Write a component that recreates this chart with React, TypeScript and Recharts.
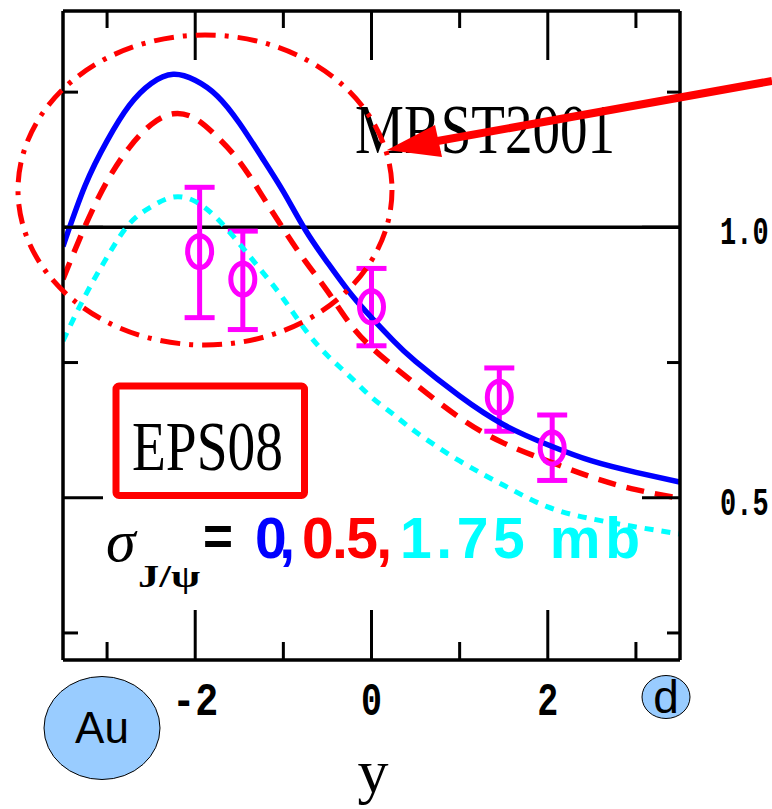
import React from 'react';
import { ComposedChart, Line, Scatter, ErrorBar, XAxis, YAxis, ReferenceLine } from 'recharts';

// rapidity grid for the model curves
const rapidity = [-3.5, -3.25, -3.0, -2.75, -2.5, -2.25, -2.0, -1.75, -1.5, -1.25, -1.0, -0.75, -0.5, -0.25, 0, 0.25, 0.5, 1.0, 1.5, 2.0, 2.5, 3.0, 3.5];
// EPS08 curves for sigma_J/psi = 0, 0.5, 1.75 mb
const sigma0 = [0.965, 1.077, 1.16, 1.225, 1.266, 1.283, 1.272, 1.243, 1.193, 1.131, 1.066, 0.995, 0.935, 0.88, 0.833, 0.79, 0.752, 0.688, 0.635, 0.598, 0.568, 0.547, 0.529];
const sigma05 = [0.904, 1.002, 1.085, 1.147, 1.19, 1.21, 1.201, 1.167, 1.122, 1.061, 0.997, 0.937, 0.882, 0.823, 0.778, 0.743, 0.71, 0.648, 0.601, 0.568, 0.538, 0.515, 0.499];
const sigma175 = [0.79, 0.873, 0.945, 1.006, 1.038, 1.056, 1.048, 1.016, 0.97, 0.92, 0.868, 0.81, 0.763, 0.725, 0.686, 0.654, 0.622, 0.568, 0.523, 0.483, 0.461, 0.446, 0.433];

// measured points
const dataRapidity = [-1.95, -1.46, 0.0, 1.45, 2.05];
const dataRatio = [0.955, 0.904, 0.853, 0.686, 0.592];
const dataErrLow = [0.122, 0.093, 0.072, 0.063, 0.06];
const dataErrHigh = [0.119, 0.089, 0.071, 0.054, 0.061];

// ticks
const xMajorTicks = [-2, 0, 2];
const xMinorTicks = [-3, -1, 1, 3];
const xTickLabels = ['-2', '0', '2'];
const yMajorTicks = [0.5, 1.0];
const yMinorTicks = [0.25, 0.75, 1.25];
const yTickLabels = ['0.5', '1.0'];

const blueData = rapidity.map((x, i) => ({ x, v: sigma0[i] }));
const redData = rapidity.map((x, i) => ({ x, v: sigma05[i] }));
const cyanData = rapidity.map((x, i) => ({ x, v: sigma175[i] }));
const pointData = dataRapidity.map((x, i) => ({ x, v: dataRatio[i], err: [dataErrLow[i], dataErrHigh[i]] }));

const allXTicks = [...xMinorTicks, ...xMajorTicks].sort((a, b) => a - b);
const allYTicks = [...yMinorTicks, ...yMajorTicks].sort((a, b) => a - b);

const BLACK = '#000000';
const TICK_W = 3;

const BottomTick = (p: any) => {
  const { x, y, payload } = p;
  const idx = xMajorTicks.indexOf(payload.value);
  const major = idx >= 0;
  return (
    <g>
      <line x1={x} y1={y} x2={x} y2={y - (major ? 50 : 18)} stroke={BLACK} strokeWidth={TICK_W} />
      {major && (
        <text x={x} y={y + 55} textAnchor="middle" fontFamily="Liberation Mono" fontWeight="bold" fontSize={46}
          textLength={xTickLabels[idx].length > 1 ? 46 : 21} lengthAdjust="spacingAndGlyphs" fill={BLACK}>
          {xTickLabels[idx]}
        </text>
      )}
    </g>
  );
};

const TopTick = (p: any) => {
  const { x, y, payload } = p;
  const major = xMajorTicks.indexOf(payload.value) >= 0;
  return <line x1={x} y1={y} x2={x} y2={y + (major ? 49 : 17)} stroke={BLACK} strokeWidth={TICK_W} />;
};

const LeftTick = (p: any) => {
  const { x, y, payload } = p;
  const major = yMajorTicks.indexOf(payload.value) >= 0;
  return <line x1={x} y1={y} x2={x + (major ? 40 : 15)} y2={y} stroke={BLACK} strokeWidth={TICK_W} />;
};

const RightTick = (p: any) => {
  const { x, y, payload } = p;
  const idx = yMajorTicks.indexOf(payload.value);
  const major = idx >= 0;
  return (
    <g>
      <line x1={x} y1={y} x2={x - (major ? 38 : 13)} y2={y} stroke={BLACK} strokeWidth={TICK_W} />
      {major && (
        <text transform={`translate(${x + 40},${y + 17}) scale(1,1.45)`} x={0} y={0} textAnchor="start"
          fontFamily="Liberation Mono" fontWeight="bold" fontSize={27} fill={BLACK}>
          {yTickLabels[idx]}
        </text>
      )}
    </g>
  );
};

const PointShape = (p: any) => (
  <ellipse cx={p.cx} cy={p.cy} rx={12} ry={16} fill="none" stroke="#ff00ff" strokeWidth={5} />
);

export default function App() {
  return (
    <div style={{ position: 'absolute', left: 0, top: 0, width: 772, height: 809, background: '#ffffff', overflow: 'hidden' }}>
      <ComposedChart width={772} height={809} margin={{ top: 0, right: 0, bottom: 0, left: 0 }}>
        <XAxis xAxisId="b" type="number" dataKey="x" domain={[-3.5, 3.5]} allowDataOverflow ticks={allXTicks}
          height={149} tickSize={0} tickMargin={0} tick={BottomTick} tickLine={false}
          axisLine={{ stroke: BLACK, strokeWidth: 3.5 }} interval={0} />
        <XAxis xAxisId="t" orientation="top" type="number" dataKey="x" domain={[-3.5, 3.5]} allowDataOverflow ticks={allXTicks}
          height={11} tickSize={0} tickMargin={0} tick={TopTick} tickLine={false}
          axisLine={{ stroke: BLACK, strokeWidth: 3.5 }} interval={0} />
        <YAxis yAxisId="l" type="number" dataKey="v" domain={[0.2, 1.4]} allowDataOverflow ticks={allYTicks}
          width={63} tickSize={0} tickMargin={0} tick={LeftTick} tickLine={false}
          axisLine={{ stroke: BLACK, strokeWidth: 3.5 }} interval={0} />
        <YAxis yAxisId="r" orientation="right" type="number" dataKey="v" domain={[0.2, 1.4]} allowDataOverflow ticks={allYTicks}
          width={92} tickSize={0} tickMargin={0} tick={RightTick} tickLine={false}
          axisLine={{ stroke: BLACK, strokeWidth: 3.5 }} interval={0} />
        <ReferenceLine xAxisId="b" yAxisId="l" y={1.0} stroke={BLACK} strokeWidth={3.5} />
        <Scatter xAxisId="b" yAxisId="l" data={pointData} dataKey="v" shape={PointShape} isAnimationActive={false}>
          <ErrorBar dataKey="err" direction="y" width={15} stroke="#ff00ff" strokeWidth={5} isAnimationActive={false} />
        </Scatter>
        <Line xAxisId="b" yAxisId="l" data={cyanData} dataKey="v" type="natural" stroke="#00ffff" strokeWidth={5}
          strokeDasharray="9 8" dot={false} activeDot={false} isAnimationActive={false} />
        <Line xAxisId="b" yAxisId="l" data={redData} dataKey="v" type="natural" stroke="#ff0000" strokeWidth={5.5}
          strokeDasharray="18 11" dot={false} activeDot={false} isAnimationActive={false} />
        <Line xAxisId="b" yAxisId="l" data={blueData} dataKey="v" type="natural" stroke="#0000ff" strokeWidth={5.5}
          dot={false} activeDot={false} isAnimationActive={false} />
      </ComposedChart>
      <svg width={772} height={809} style={{ position: 'absolute', left: 0, top: 0, pointerEvents: 'none' }}>
        <text x={355} y={153} fontFamily="Liberation Serif" fontSize={69} textLength={260} lengthAdjust="spacingAndGlyphs" fill={BLACK}>MRST2001</text>
        <rect x={116} y={386} width={188.5} height={109.5} rx={3} fill="none" stroke="#ff0000" strokeWidth={7} />
        <text x={132} y={470} fontFamily="Liberation Serif" fontSize={70} textLength={151} lengthAdjust="spacingAndGlyphs" fill={BLACK}>EPS08</text>
        <text x={106} y={561} fontFamily="Liberation Serif" fontStyle="italic" fontSize={60} fill={BLACK}>σ</text>
        <text x={138} y={587} fontFamily="Liberation Serif" fontWeight="bold" fontSize={32} textLength={62} lengthAdjust="spacingAndGlyphs" fill={BLACK}>J/ψ</text>
        <text x={203} y={555} fontFamily="Liberation Sans" fontWeight="bold" fontSize={55} textLength={30} lengthAdjust="spacingAndGlyphs" fill={BLACK}>=</text>
        <text x={255} y={558} fontFamily="Liberation Sans" fontWeight="bold" fontSize={57} textLength={40} lengthAdjust="spacing" fill="#0000ff">0,</text>
        <text x={302} y={558} fontFamily="Liberation Sans" fontWeight="bold" fontSize={57} textLength={90} lengthAdjust="spacing" fill="#ff0000">0.5,</text>
        <text x={400} y={558} fontFamily="Liberation Sans" fontWeight="bold" fontSize={57} textLength={240} lengthAdjust="spacing" fill="#00ffff">1.75 mb</text>
        <ellipse cx={205} cy={190} rx={187} ry={155} fill="none" stroke="#ff0000" strokeWidth={5} strokeDasharray="20 9 4 9" />
        <line x1={772} y1={81} x2={432} y2={142} stroke="#ff0000" strokeWidth={8} />
        <polygon points="387,150 435,125 442,157" fill="#ff0000" />
        <ellipse cx={102} cy={728} rx={58} ry={51.5} fill="#99ccff" stroke={BLACK} strokeWidth={1} />
        <text x={102} y={743} textAnchor="middle" fontFamily="Liberation Sans" fontSize={44} fill={BLACK}>Au</text>
        <ellipse cx={666} cy={697} rx={24} ry={21.5} fill="#99ccff" stroke={BLACK} strokeWidth={1} />
        <text x={666} y={713} textAnchor="middle" fontFamily="Liberation Sans" fontSize={46} fill={BLACK}>d</text>
        <text x={373} y={792} textAnchor="middle" fontFamily="Liberation Serif" fontSize={62} fill={BLACK}>y</text>
      </svg>
    </div>
  );
}
